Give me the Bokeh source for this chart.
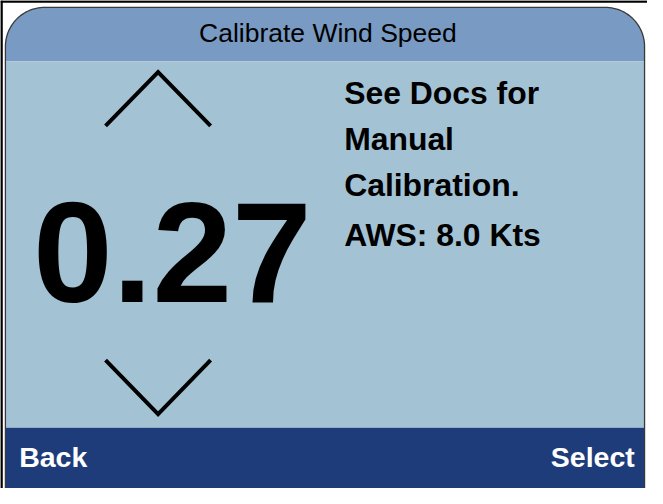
import numpy as np
from bokeh.plotting import figure
from bokeh.models import Range1d
from bokeh.core.properties import value
from bokeh.embed import file_html
from bokeh.resources import INLINE

# ---- content ----
title_text = "Calibrate Wind Speed"
calibration_value = [0.27]
note_lines = ["See Docs for", "Manual", "Calibration."]
aws_kts = [8.0]
soft_keys = ["Back", "Select"]

# ---- colours ----
HEADER = "#789AC3"
BODY = "#A3C3D4"
FOOTER = "#1F3C7A"
EDGE = "#3a3a3a"

W, H = 647, 488
X0, X1 = 4, 663
Y0, Y1 = 6, 504
S = W / (X1 - X0)        # screen px per unit (x)
SY = H / (Y1 - Y0)       # screen px per unit (y)
BASE_FIX = 0.34          # measured downward shift of the svg baseline, in em

FONT = value("Liberation Sans")

p = figure(width=W, height=H, x_range=Range1d(X0, X1), y_range=Range1d(Y1, Y0),
           output_backend="svg", toolbar_location=None, min_border=0,
           background_fill_color="white", border_fill_color="white")
p.axis.visible = False
p.grid.visible = False
p.outline_line_color = None


def label(x, ys, texts, size, bold=True, color="black", align="left"):
    fs = size * S
    yy = [y - BASE_FIX * fs / SY for y in ys]
    p.text(x=[x] * len(texts), y=yy, text=texts, text_font=FONT,
           text_font_style="bold" if bold else "normal",
           text_font_size=f"{fs:.1f}px", text_color=color,
           text_align=align, text_baseline="alphabetic")


# panel geometry
left, right, top, bottom = 9, 660, 13, 504
r = 40
header_bot, footer_top = 68, 442
t = np.linspace(0, np.pi / 2, 30)
arc_lx = (left + r) - r * np.cos(t)
arc_ly = (top + r) - r * np.sin(t)
arc_rx = (right - r) + r * np.sin(t)
arc_ry = (top + r) - r * np.cos(t)

hx = list(arc_lx) + list(arc_rx) + [right, left]
hy = list(arc_ly) + list(arc_ry) + [header_bot, header_bot]
p.patch(hx, hy, fill_color=HEADER, line_color=None)
p.quad(left=[left], right=[right], top=[header_bot], bottom=[footer_top],
       fill_color=BODY, line_color=None)
p.quad(left=[left], right=[right], top=[footer_top], bottom=[bottom],
       fill_color=FOOTER, line_color=None)
ox = [left] + list(arc_lx) + list(arc_rx) + [right]
oy = [bottom] + list(arc_ly) + list(arc_ry) + [bottom]
p.line(ox, oy, line_color=EDGE, line_width=1.3)

# black frame lines
p.line([4, 663], [7, 7], line_color="black", line_width=2.6)
p.line([5, 5], [6, 504], line_color="black", line_width=2.6)

# chevrons
cx, half, rise = 164.5, 53.5, 55
p.line([cx - half, cx, cx + half], [79 + rise, 79, 79 + rise], line_color="black",
       line_width=4, line_join="miter", line_cap="butt")
p.line([cx - half, cx, cx + half], [428 - rise, 428, 428 - rise], line_color="black",
       line_width=4, line_join="miter", line_cap="butt")

# header title
label(337.5, [48], [title_text], 27, bold=False, align="center")

# big value
label(37, [313], [f"{v:.2f}" for v in calibration_value], 146)

# notes
label(354, [111, 158, 205], note_lines, 32.5)
label(354, [256.5], [f"AWS: {v:.1f} Kts" for v in aws_kts], 32.5)

# soft keys
label(23, [482], [soft_keys[0]], 29, color="white")
label(650, [482], [soft_keys[1]], 29, color="white", align="right")

open("out.html", "w").write(file_html(p, INLINE))
